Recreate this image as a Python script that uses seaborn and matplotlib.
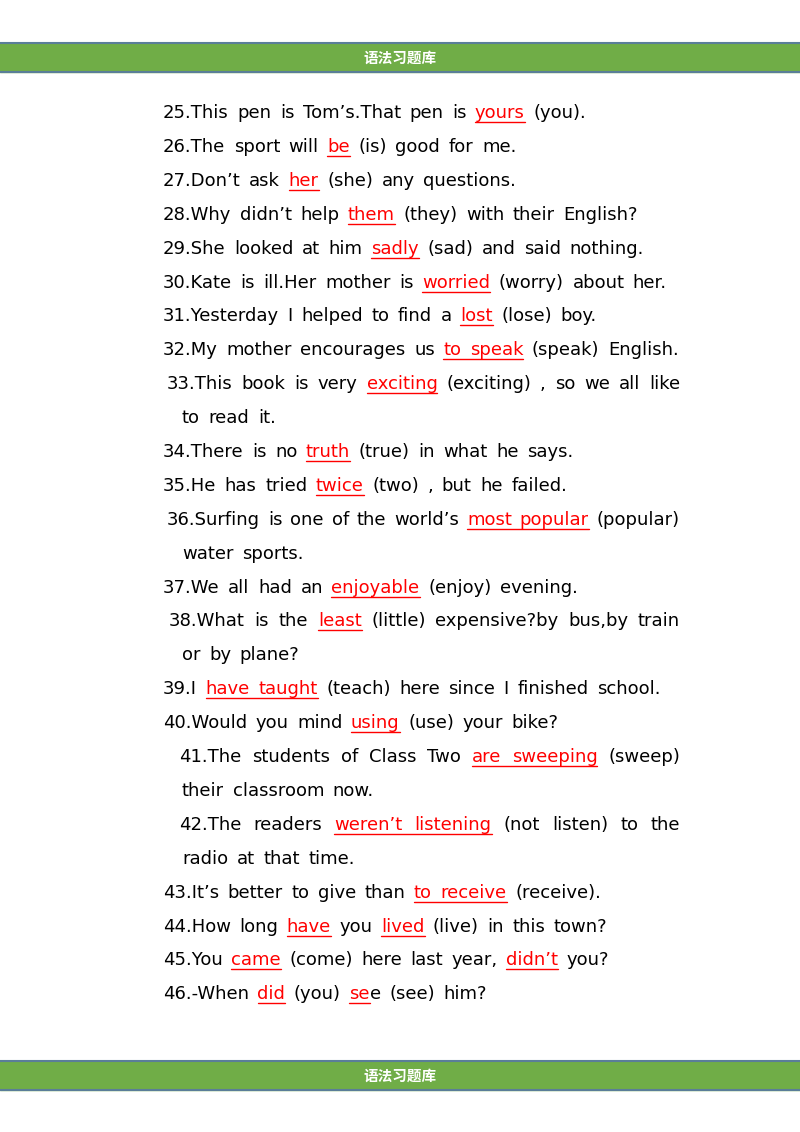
import re
import matplotlib
matplotlib.use("Agg")
import matplotlib.pyplot as plt
import seaborn as sns

# Page content: red answers are marked with [brackets]
header_text = "语法习题库"
lines = [
    "25.This pen is Tom’s.That pen is [yours] (you).",
    "26.The sport will [be] (is) good for me.",
    "27.Don’t ask [her] (she) any questions.",
    "28.Why didn’t help [them] (they) with their English?",
    "29.She looked at him [sadly] (sad) and said nothing.",
    "30.Kate is ill.Her mother is [worried] (worry) about her.",
    "31.Yesterday I helped to find a [lost] (lose) boy.",
    "32.My mother encourages us [to speak] (speak) English.",
    "33.This book is very [exciting] (exciting) , so we all like",
    "to read it.",
    "34.There is no [truth] (true) in what he says.",
    "35.He has tried [twice] (two) , but he failed.",
    "36.Surfing is one of the world’s [most popular] (popular)",
    "water sports.",
    "37.We all had an [enjoyable] (enjoy) evening.",
    "38.What is the [least] (little) expensive?by bus,by train",
    "or by plane?",
    "39.I [have taught] (teach) here since I finished school.",
    "40.Would you mind [using] (use) your bike?",
    "41.The students of Class Two [are sweeping] (sweep)",
    "their classroom now.",
    "42.The readers [weren’t listening] (not listen) to the",
    "radio at that time.",
    "43.It’s better to give than [to receive] (receive).",
    "44.How long [have] you [lived] (live) in this town?",
    "45.You [came] (come) here last year, [didn’t] you?",
    "46.-When [did] (you) [se]e (see) him?",
]
indents = [163, 163, 163, 163, 163, 163, 163, 163, 167, 182, 163, 163, 167, 182,
           163, 169, 182, 163, 163, 179, 182, 179, 182, 163, 163, 163, 163]
justified = [8, 12, 15, 19, 21]

W, H = 800, 1132
sns.set_style("white")
plt.rcParams["font.family"] = ["DejaVu Sans", "Noto Sans CJK SC"]

fig = plt.figure(figsize=(W / 100, H / 100), dpi=100)
ax = fig.add_axes([0, 0, 1, 1])
ax.set_xlim(0, W)
ax.set_ylim(H, 0)
ax.axis("off")
renderer = fig.canvas.get_renderer()


def band(y0, y1):
    ax.fill_between([0, W], y0, y1, color="#70AD47", zorder=1)
    ax.plot([0, W], [y0, y0], color="#5A7E98", lw=1.5, zorder=2)
    ax.plot([0, W], [y1, y1], color="#5A7E98", lw=1.5, zorder=2)
    ax.text(W / 2, (y0 + y1) / 2, header_text, color="white", fontsize=10.5,
            fontweight="bold", family="Noto Sans CJK SC", ha="center", va="center")


band(43, 72)
band(1061, 1090)

fs = 13
space = 8.5


def parse(s):
    runs = []
    for part in re.split(r"(\[[^\]]*\])", s):
        if not part:
            continue
        if part.startswith("["):
            runs.append((part[1:-1], True))
        else:
            runs.append((part, False))
    words, cur = [], []
    for txt, red in runs:
        chunks = txt.split(" ")
        for i, c in enumerate(chunks):
            if i > 0:
                if cur:
                    words.append(cur)
                cur = []
            if c:
                cur.append((c, red))
    if cur:
        words.append(cur)
    return words


def width(txt):
    t = ax.text(0, 0, txt, fontsize=fs)
    w = t.get_window_extent(renderer).width
    t.remove()
    return w


y = 113
step = 33.9
for i, s in enumerate(lines):
    words = parse(s)
    wws = [sum(width(p) for p, _ in wd) for wd in words]
    gap = space
    if i in justified and len(words) > 1:
        gap = (680 - indents[i] - sum(wws)) / (len(words) - 1)
    x = indents[i]
    red_spans = []
    prev_red_end = None
    for wd, ww in zip(words, wws):
        for p, red in wd:
            pw = width(p)
            ax.text(x, y, p, fontsize=fs, color="#FF0000" if red else "black",
                    va="center", ha="left")
            if red:
                if red_spans and prev_red_end is not None and x - prev_red_end <= gap + 0.5:
                    red_spans[-1][1] = x + pw
                else:
                    red_spans.append([x, x + pw])
                prev_red_end = x + pw
            else:
                prev_red_end = None
            x += pw
        x += gap
    for x0, x1 in red_spans:
        ax.plot([x0, x1], [y + 9, y + 9], color="#FF0000", lw=1)
    y += step

fig.savefig("out.png", dpi=100)
